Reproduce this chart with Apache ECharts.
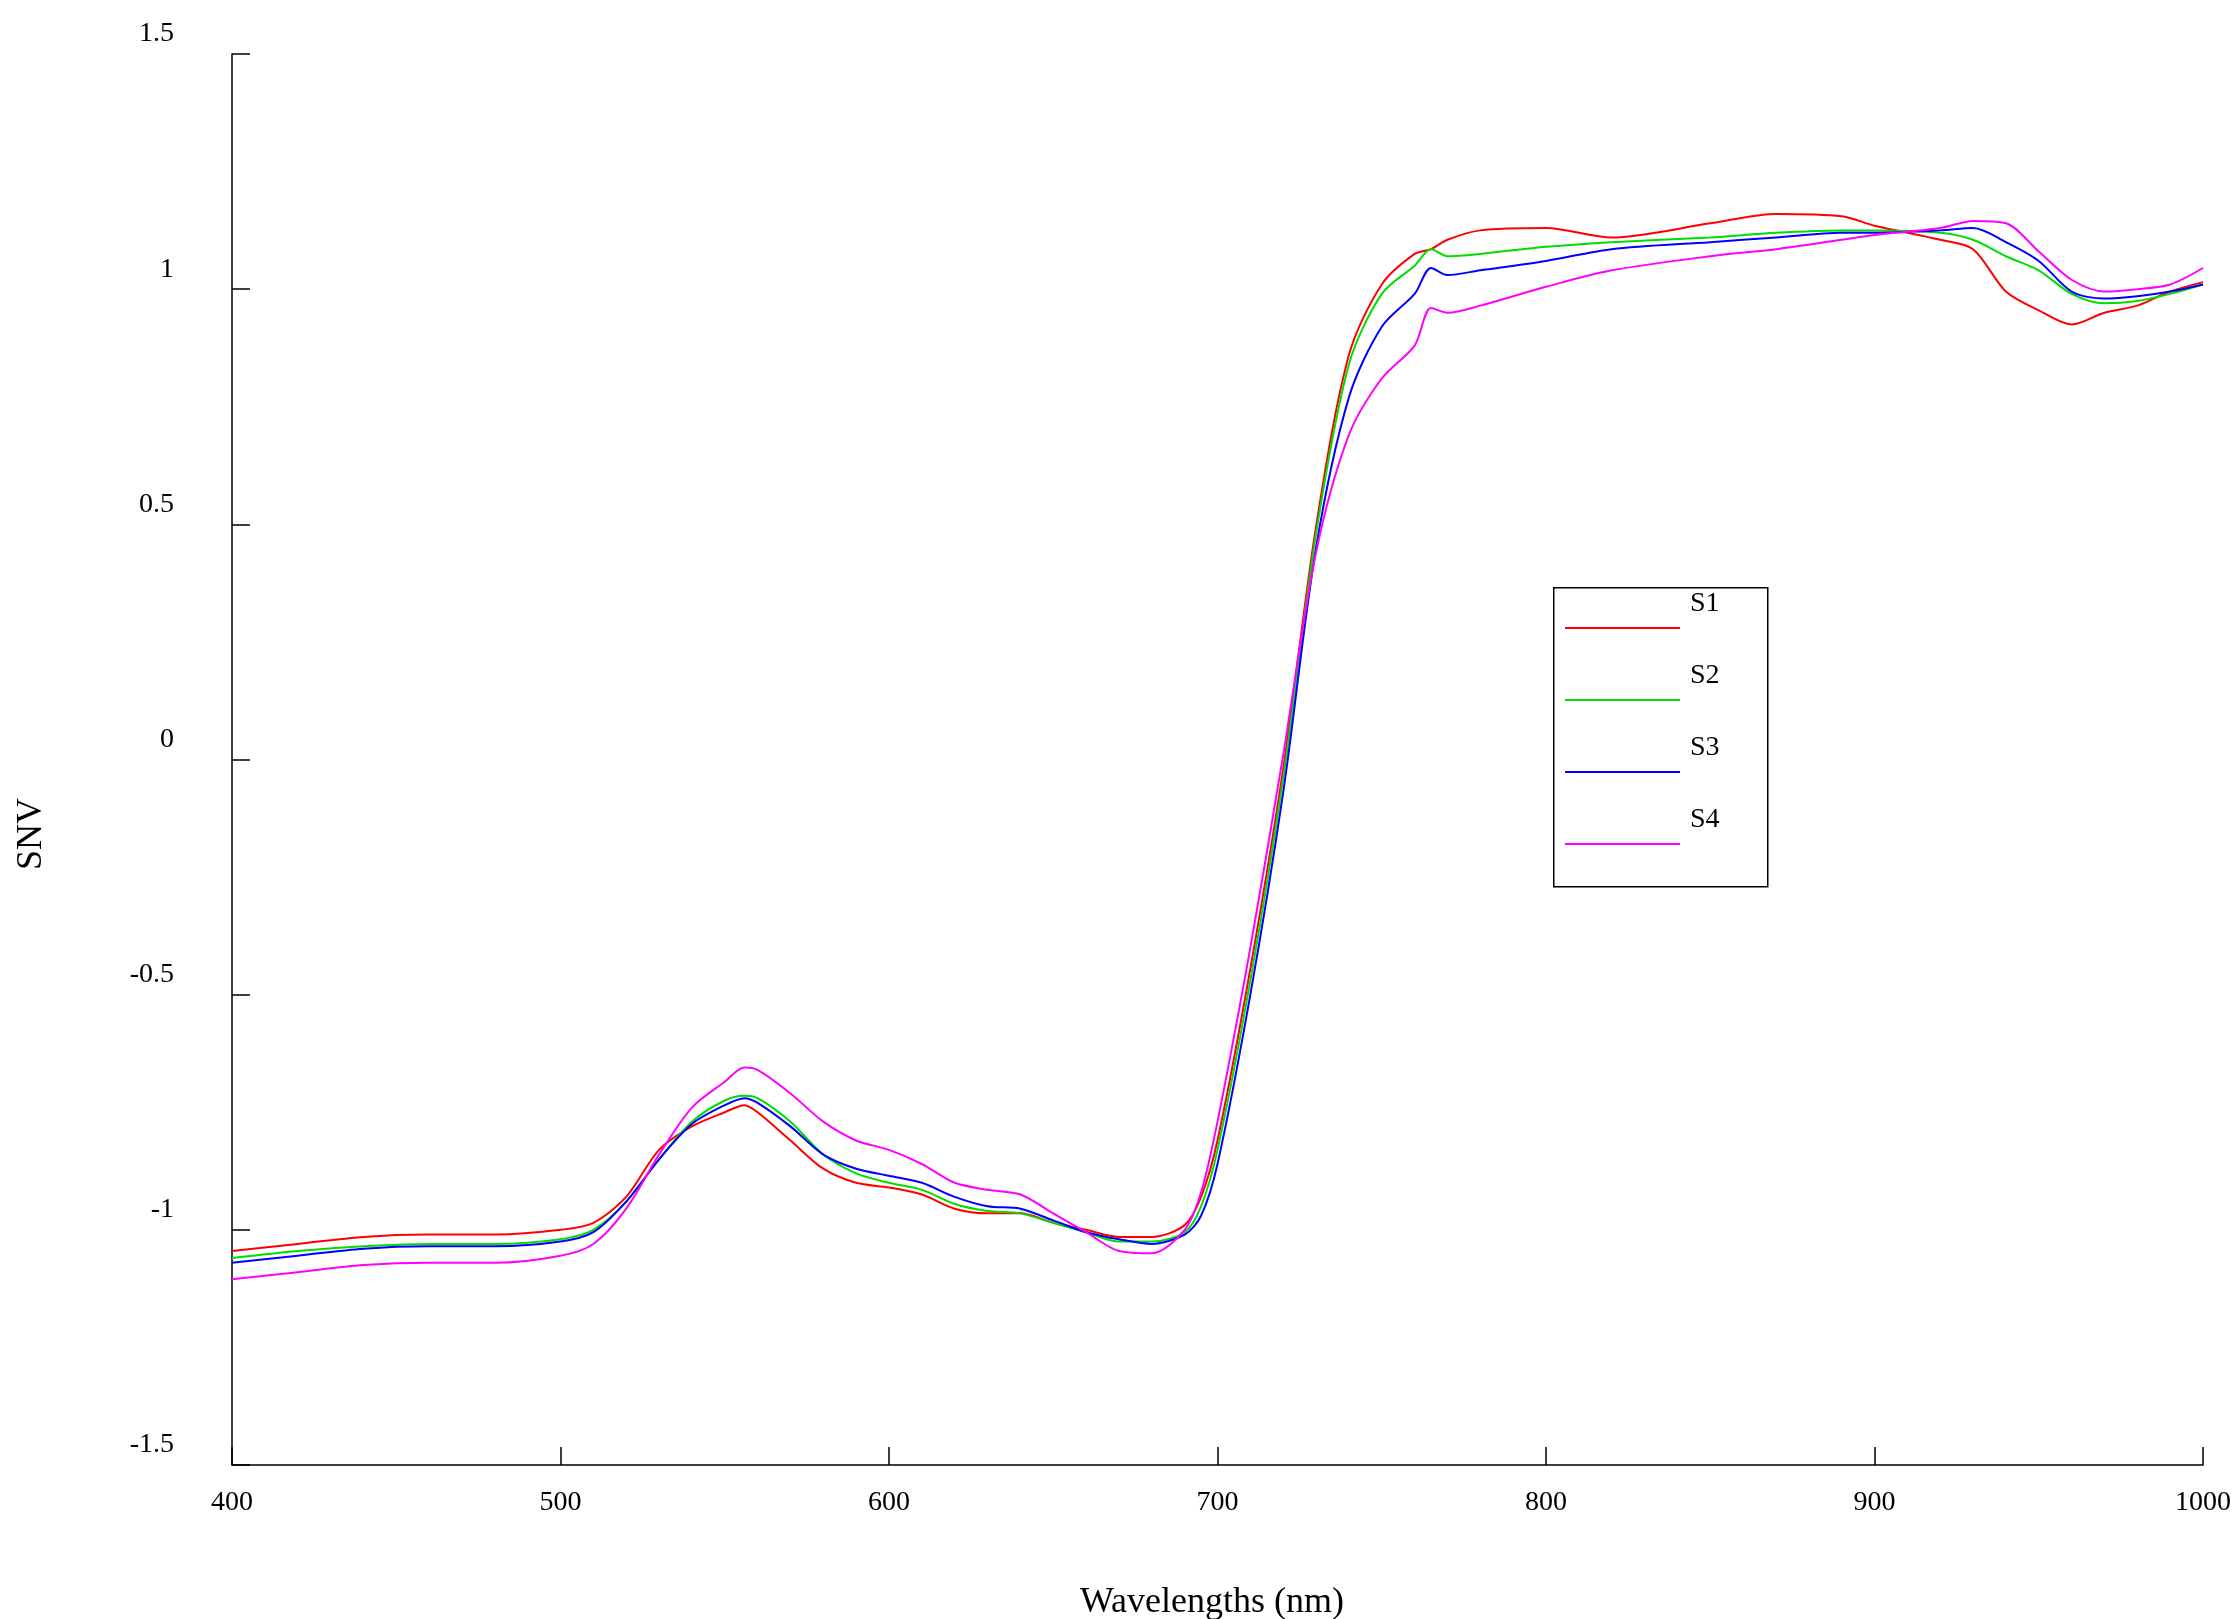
<!DOCTYPE html>
<html><head><meta charset="utf-8">
<script src="https://cdn.jsdelivr.net/npm/echarts@6/dist/echarts.min.js"></script>
<style>html,body{margin:0;padding:0;background:#fff}#c{width:2234px;height:1619px}</style>
</head><body><div id="c"></div>
<script>
const xs = [400,420,440,460,480,500,510,520,530,540,550,556,560,570,580,590,600,610,620,630,640,650,660,670,680,690,695,700,710,720,730,740,750,760,765,770,780,800,820,850,870,890,900,920,930,940,950,960,970,980,990,1000];
const s1 = [-1.045,-1.03,-1.015,-1.01,-1.01,-1.0,-0.985,-0.93,-0.83,-0.78,-0.75,-0.735,-0.75,-0.81,-0.87,-0.9,-0.91,-0.925,-0.955,-0.965,-0.965,-0.985,-1.0,-1.015,-1.015,-0.99,-0.93,-0.81,-0.445,-0.02,0.495,0.86,1.01,1.075,1.085,1.105,1.125,1.13,1.11,1.14,1.16,1.155,1.135,1.105,1.085,0.995,0.955,0.925,0.95,0.965,0.995,1.015];
const s2 = [-1.06,-1.045,-1.035,-1.03,-1.03,-1.02,-1.0,-0.94,-0.85,-0.77,-0.725,-0.715,-0.72,-0.77,-0.84,-0.88,-0.9,-0.915,-0.945,-0.96,-0.965,-0.985,-1.005,-1.025,-1.025,-1.005,-0.95,-0.83,-0.47,-0.04,0.48,0.84,0.99,1.05,1.085,1.07,1.075,1.09,1.1,1.11,1.12,1.125,1.125,1.12,1.105,1.07,1.04,0.99,0.97,0.975,0.99,1.01];
const s3 = [-1.07,-1.055,-1.04,-1.035,-1.035,-1.025,-1.005,-0.94,-0.85,-0.775,-0.735,-0.72,-0.73,-0.78,-0.84,-0.87,-0.885,-0.9,-0.93,-0.95,-0.955,-0.98,-1.005,-1.02,-1.03,-1.01,-0.97,-0.86,-0.5,-0.07,0.45,0.77,0.92,0.99,1.045,1.03,1.04,1.06,1.085,1.1,1.11,1.12,1.12,1.125,1.13,1.1,1.06,0.995,0.98,0.985,0.995,1.01];
const s4 = [-1.105,-1.09,-1.075,-1.07,-1.07,-1.055,-1.03,-0.955,-0.84,-0.74,-0.685,-0.655,-0.66,-0.71,-0.77,-0.81,-0.83,-0.86,-0.9,-0.915,-0.925,-0.965,-1.005,-1.045,-1.05,-1.0,-0.92,-0.77,-0.4,0.01,0.44,0.69,0.81,0.88,0.96,0.95,0.965,1.005,1.04,1.07,1.085,1.105,1.115,1.13,1.145,1.14,1.08,1.02,0.995,1.0,1.01,1.045];
const names = ['S1','S2','S3','S4'];
const colors = ['#ff0000','#00dd00','#0000ff','#ff00ff'];
const vals = [s1,s2,s3,s4];
const font = 'Liberation Serif';
const chart = echarts.init(document.getElementById('c'));
const legendG = [{type:'rect',left:1553,top:587,shape:{width:214,height:299},style:{fill:'#fff',stroke:'#000',lineWidth:1.5}}];
names.forEach((n,i)=>{
  const y = 628 + i*72;
  legendG.push({type:'line',shape:{x1:1565,y1:y,x2:1680,y2:y},style:{stroke:colors[i],lineWidth:2}});
  legendG.push({type:'text',left:1690,top:y-38,style:{text:n,font:'28px "Liberation Serif"',fill:'#000'}});
});
legendG.push({type:'text',left:1080,top:1585,style:{text:'Wavelengths (nm)',font:'36px "Liberation Serif"',fill:'#000',align:'center',verticalAlign:'middle'}});
legendG.push({type:'text',left:14,top:798,rotation:Math.PI/2,style:{text:'SNV',font:'36px "Liberation Serif"',fill:'#000',align:'center',verticalAlign:'middle'}});
chart.setOption({
  animation:false,
  grid:{left:232,right:20,top:54,bottom:154},
  xAxis:{type:'value',min:400,max:1000,interval:100,
    axisLine:{onZero:false,lineStyle:{color:'#000',width:1.5}},
    axisTick:{inside:true,length:18,lineStyle:{color:'#000',width:1.5}},
    axisLabel:{fontFamily:font,fontSize:28,color:'#000',margin:24,formatter:v=>String(v)},
    splitLine:{show:false}},
  yAxis:{type:'value',min:-1.5,max:1.5,interval:0.5,
    axisLine:{show:true,lineStyle:{color:'#000',width:1.5}},
    axisTick:{show:true,inside:true,length:18,lineStyle:{color:'#000',width:1.5}},
    axisLabel:{fontFamily:font,fontSize:28,color:'#000',margin:58,verticalAlign:'bottom',padding:[0,0,6,0],formatter:v=>String(v)},
    splitLine:{show:false}},
  series:vals.map((v,i)=>({type:'line',name:names[i],showSymbol:false,smooth:0.3,
    data:xs.map((x,j)=>[x,v[j]]),lineStyle:{color:colors[i],width:2},itemStyle:{color:colors[i]}})),
  graphic:legendG
});
</script></body></html>
